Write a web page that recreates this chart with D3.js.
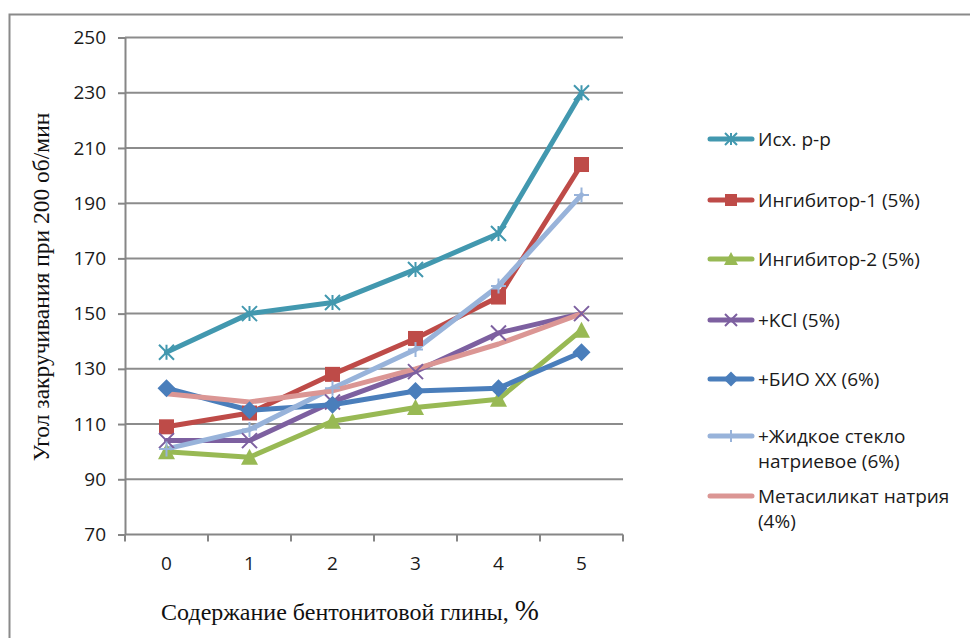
<!DOCTYPE html>
<html>
<head>
<meta charset="utf-8">
<script src="https://cdn.jsdelivr.net/npm/d3@7"></script>
<style>
  html, body { margin: 0; padding: 0; background: #fff; }
  svg { display: block; }
</style>
</head>
<body>
<svg id="chart" width="970" height="638"></svg>
<script>
// Bentonite clay content, % (x categories)
const categories = ["0", "1", "2", "3", "4", "5"];
const yTicks = [70, 90, 110, 130, 150, 170, 190, 210, 230, 250];

// Twist angle at 200 rpm for each fluid
const seriesNames = [
  "Исх. р-р",
  "Ингибитор-1 (5%)",
  "Ингибитор-2 (5%)",
  "+KCl (5%)",
  "+БИО ХХ (6%)",
  "+Жидкое стекло натриевое (6%)",
  "Метасиликат натрия (4%)"
];
const baseFluid   = [136, 150, 154, 166, 179, 230];
const inhibitor1  = [109, 114, 128, 141, 156, 204];
const inhibitor2  = [100,  98, 111, 116, 119, 144];
const kcl         = [104, 104, 118, 129, 143, 150];
const bioXX       = [123, 115, 117, 122, 123, 136];
const waterGlass  = [101, 108, 123, 137, 160, 193];
const metasilicate= [121, 118, 122, 130, 139, 150];
const seriesValues = [baseFluid, inhibitor1, inhibitor2, kcl, bioXX, waterGlass, metasilicate];

const colors  = ["#4298AF", "#BE4B48", "#98B954", "#7D60A0", "#4A7EBB", "#98B3DA", "#DB9694"];
const markers = ["star", "square", "triangle", "cross", "diamond", "plus", "none"];
const legendLines = [
  ["Исх. р-р"],
  ["Ингибитор-1 (5%)"],
  ["Ингибитор-2 (5%)"],
  ["+KCl (5%)"],
  ["+БИО ХХ (6%)"],
  ["+Жидкое стекло", "натриевое (6%)"],
  ["Метасиликат натрия", "(4%)"]
];
const legendY = [139, 200, 259, 320, 379, 436, 496];

const svg = d3.select("#chart");
const plot = { left: 125, right: 623, top: 37.5, bottom: 534.5 };

// Chart frame
svg.append("rect")
  .attr("x", 9.5).attr("y", 14.5)
  .attr("width", 1000).attr("height", 700)
  .attr("fill", "none").attr("stroke", "#8a8a8a").attr("stroke-width", 2);

const x = d3.scaleBand().domain(categories).range([plot.left, plot.right]);
const y = d3.scaleLinear().domain([70, 250]).range([plot.bottom, plot.top]);

// Horizontal gridlines
svg.append("g").selectAll("line").data(yTicks.filter(v => v > 70)).join("line")
  .attr("x1", plot.left).attr("x2", plot.right)
  .attr("y1", d => y(d)).attr("y2", d => y(d))
  .attr("stroke", "#8c8c8c").attr("stroke-width", 2);

// Y axis
const yAxis = svg.append("g").attr("transform", `translate(${plot.left},0)`)
  .call(d3.axisLeft(y).tickValues(yTicks).tickSize(7).tickSizeOuter(0).tickPadding(12));
yAxis.select(".domain").attr("stroke", "#868686").attr("stroke-width", 2);
yAxis.selectAll(".tick line").attr("stroke", "#868686").attr("stroke-width", 2);
yAxis.selectAll(".tick text")
  .attr("font-family", "'Open Sans', sans-serif").attr("font-size", 19).attr("fill", "#1a1a1a");

// X axis with ticks at category boundaries
const xAxisG = svg.append("g").attr("transform", `translate(0,${plot.bottom})`);
xAxisG.append("line")
  .attr("x1", plot.left).attr("x2", plot.right)
  .attr("stroke", "#868686").attr("stroke-width", 2);
const bounds = categories.map(c => x(c)).concat([x(categories[categories.length - 1]) + x.bandwidth()]);
xAxisG.selectAll(".btick").data(bounds).join("line")
  .attr("x1", d => d).attr("x2", d => d).attr("y1", 0).attr("y2", 7)
  .attr("stroke", "#868686").attr("stroke-width", 2);
xAxisG.selectAll(".lbl").data(categories).join("text")
  .attr("x", d => x(d) + x.bandwidth() / 2).attr("y", 35)
  .attr("text-anchor", "middle")
  .attr("font-family", "'Open Sans', sans-serif").attr("font-size", 19).attr("fill", "#1a1a1a")
  .text(d => d);

// Axis titles
svg.append("text")
  .attr("transform", "translate(49,287) rotate(-90)")
  .attr("text-anchor", "middle")
  .attr("font-family", "'Liberation Serif', 'Times New Roman', serif").attr("font-size", 23.5).attr("fill", "#111")
  .text("Угол закручивания при 200 об/мин");
const xt = svg.append("text")
  .attr("x", 350).attr("y", 620)
  .attr("text-anchor", "middle")
  .attr("font-family", "'Liberation Serif', 'Times New Roman', serif").attr("font-size", 24).attr("fill", "#111");
xt.append("tspan").text("Содержание бентонитовой глины, ");
xt.append("tspan").attr("font-size", 29).text("%");

// Marker shapes
function drawMarker(g, type, color, cx, cy, s) {
  const h = s / 2;
  if (type === "square") {
    g.append("rect").attr("x", cx - h).attr("y", cy - h).attr("width", s).attr("height", s)
      .attr("fill", color);
  } else if (type === "diamond") {
    g.append("path").attr("d", `M${cx},${cy - h - 1.5}L${cx + h + 1.5},${cy}L${cx},${cy + h + 1.5}L${cx - h - 1.5},${cy}Z`)
      .attr("fill", color);
  } else if (type === "triangle") {
    g.append("path").attr("d", `M${cx},${cy - h - 1}L${cx + h + 1},${cy + h}L${cx - h - 1},${cy + h}Z`)
      .attr("fill", color);
  } else if (type === "cross" || type === "star" || type === "plus") {
    let d = "";
    if (type !== "plus") d += `M${cx - h},${cy - h}L${cx + h},${cy + h}M${cx - h},${cy + h}L${cx + h},${cy - h}`;
    if (type === "star") d += `M${cx},${cy - h}L${cx},${cy + h}`;
    if (type === "plus") d += `M${cx - h},${cy}L${cx + h},${cy}M${cx},${cy - h}L${cx},${cy + h}`;
    g.append("path").attr("d", d).attr("stroke", color).attr("stroke-width", 2).attr("fill", "none");
  }
}

const line = d3.line()
  .x((d, i) => x(categories[i]) + x.bandwidth() / 2)
  .y(d => y(d));

// Lines first, then markers on top
const linesG = svg.append("g");
seriesValues.forEach((vals, k) => {
  linesG.append("path").datum(vals)
    .attr("d", line)
    .attr("fill", "none").attr("stroke", colors[k])
    .attr("stroke-width", 5).attr("stroke-linejoin", "round").attr("stroke-linecap", "round");
});
const markG = svg.append("g");
seriesValues.forEach((vals, k) => {
  vals.forEach((v, i) => {
    drawMarker(markG, markers[k], colors[k], x(categories[i]) + x.bandwidth() / 2, y(v), 15);
  });
});

// Legend
const legend = svg.append("g");
seriesNames.forEach((name, k) => {
  const ly = legendY[k];
  legend.append("line").attr("x1", 710).attr("x2", 752).attr("y1", ly).attr("y2", ly)
    .attr("stroke", colors[k]).attr("stroke-width", 5).attr("stroke-linecap", "round");
  drawMarker(legend, markers[k], colors[k], 731, ly, 12);
  const t = legend.append("text")
    .attr("x", 758).attr("y", ly + 6.5)
    .attr("font-family", "'Open Sans', sans-serif").attr("font-size", 19).attr("fill", "#1a1a1a");
  legendLines[k].forEach((s, j) => {
    t.append("tspan").attr("x", 758).attr("dy", j === 0 ? 0 : 25).text(s);
  });
});
</script>
</body>
</html>
